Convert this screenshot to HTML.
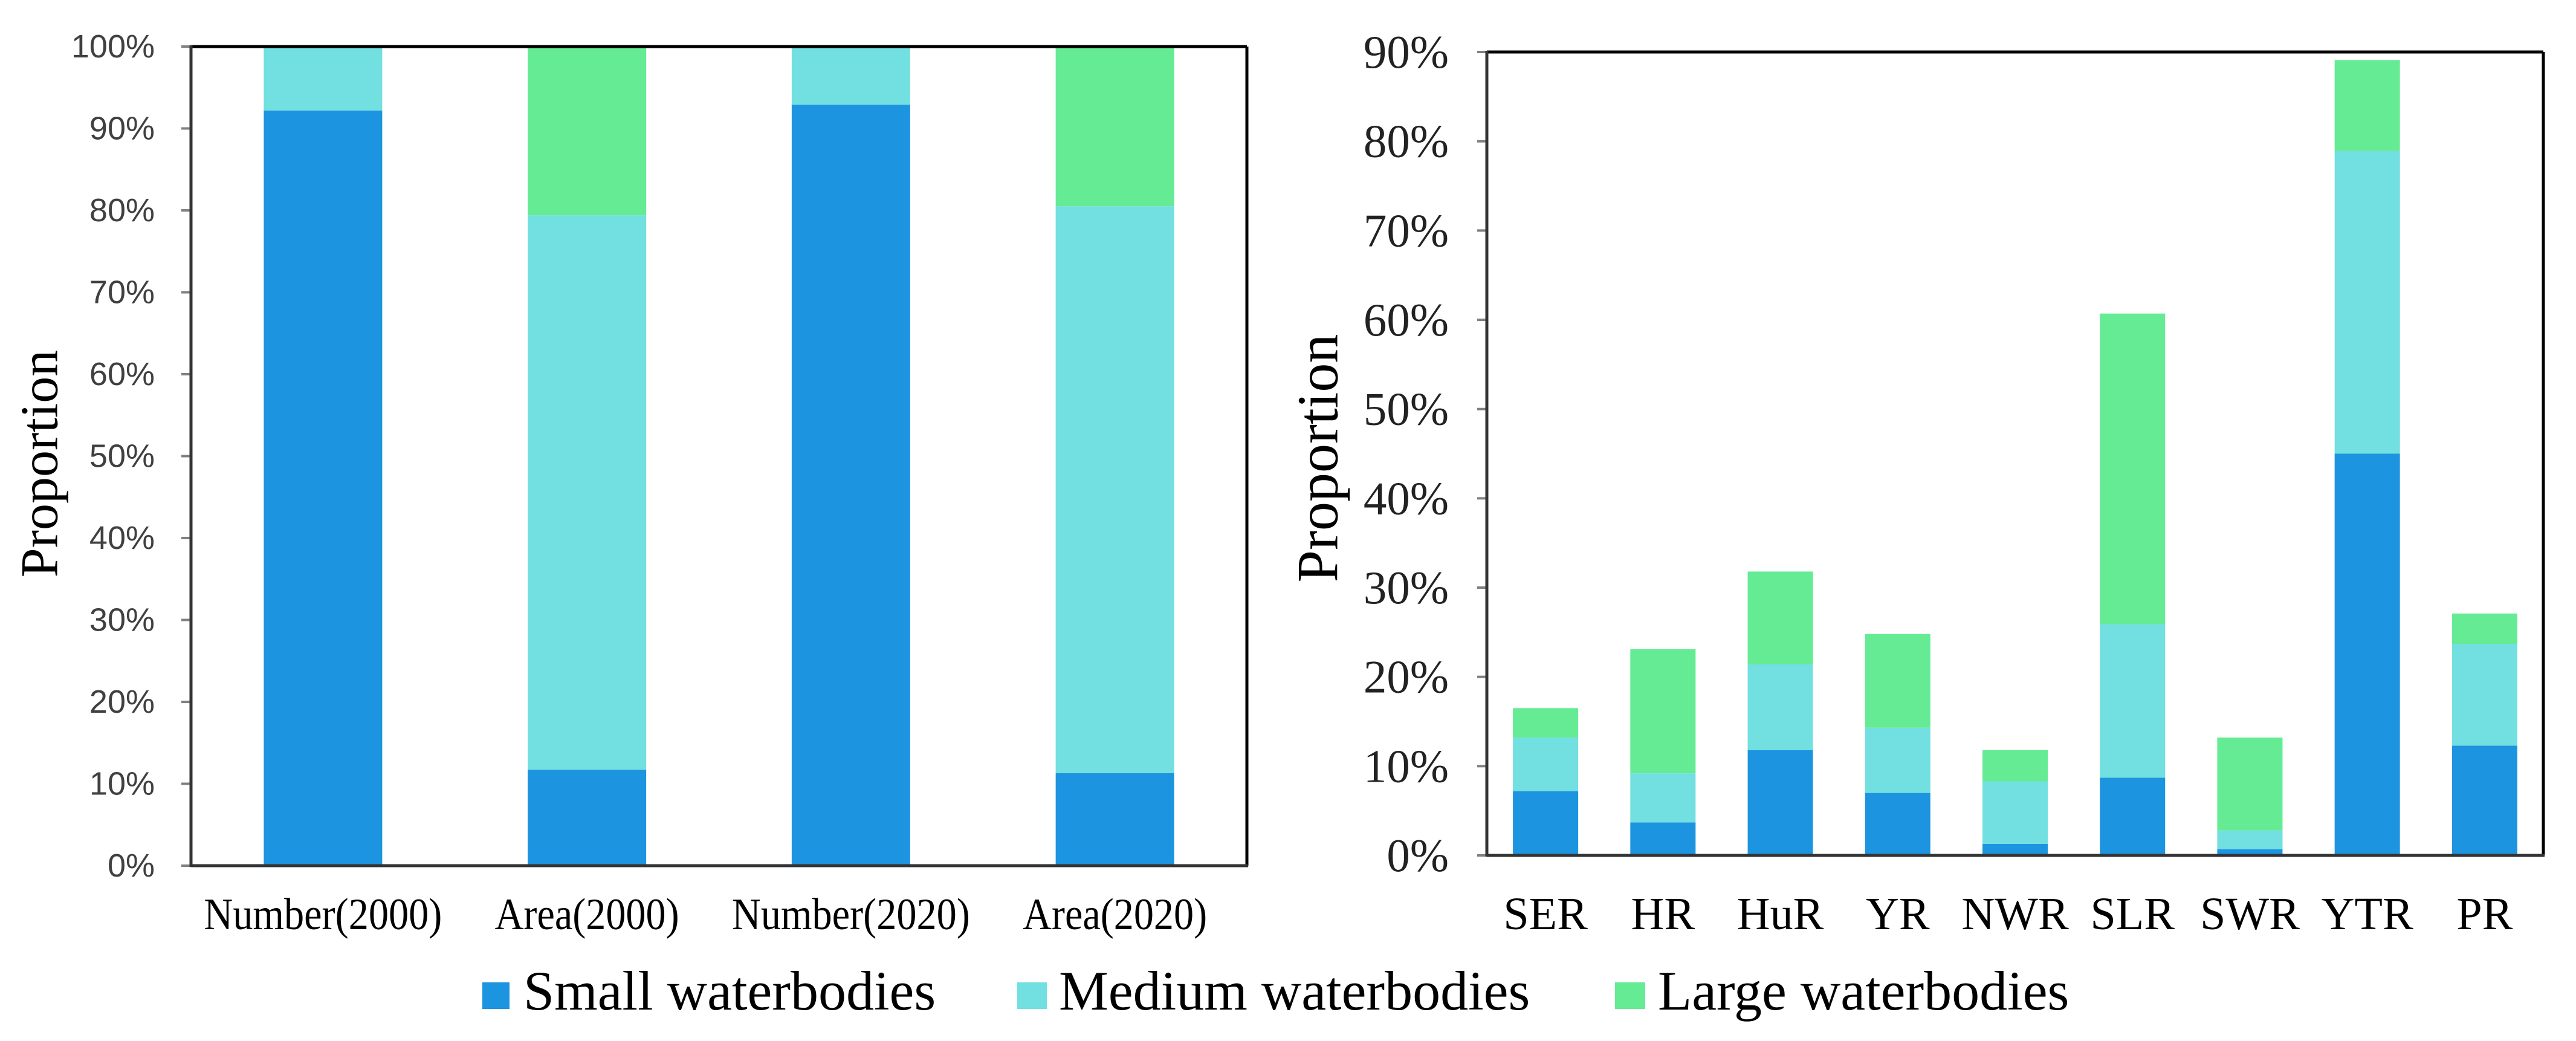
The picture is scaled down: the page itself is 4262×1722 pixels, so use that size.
<!DOCTYPE html>
<html><head><meta charset="utf-8"><style>
html,body{margin:0;padding:0;background:#fff;}
svg{display:block;}
</style></head><body>
<svg id="chart" xmlns="http://www.w3.org/2000/svg" width="4262" height="1722" viewBox="0 0 4262 1722">
<rect x="0" y="0" width="4262" height="1722" fill="#fff"/>
<g id="left"></g>
<g id="right"></g>
<g id="legend">
  <rect x="798" y="1625" width="45" height="44" fill="#1c94e0"/>
  <text x="866" y="1670" font-family="Liberation Serif, serif" font-size="92" fill="#000">Small waterbodies</text>
  <rect x="1683" y="1625" width="49" height="44" fill="#72dfe0"/>
  <text x="1752" y="1670" font-family="Liberation Serif, serif" font-size="92" fill="#000">Medium waterbodies</text>
  <rect x="2672" y="1625" width="50" height="44" fill="#64eb94"/>
  <text x="2743" y="1670" font-family="Liberation Serif, serif" font-size="92" fill="#000">Large waterbodies</text>
</g>
</svg>
<script>
const NS = 'http://www.w3.org/2000/svg';
const COLORS = ['#1c94e0', '#72dfe0', '#64eb94'];
const SERIES_NAMES = ['small', 'medium', 'large'];

// Left chart data (cumulative top of each stack segment, %)
const leftCategories = ['Number(2000)', 'Area(2000)', 'Number(2020)', 'Area(2020)'];
const leftSmall = [92.2, 11.7, 92.9, 11.3];
const leftMedium = [7.8, 67.7, 7.1, 69.2];
const leftLarge = [0, 20.6, 0, 19.5];
const leftTicks = ['0%', '10%', '20%', '30%', '40%', '50%', '60%', '70%', '80%', '90%', '100%'];

// Right chart data (%)
const rightCategories = ['SER', 'HR', 'HuR', 'YR', 'NWR', 'SLR', 'SWR', 'YTR', 'PR'];
const rightSmall = [7.2, 3.7, 11.8, 7.0, 1.3, 8.7, 0.7, 45.0, 12.3];
const rightMedium = [6.0, 5.5, 9.6, 7.3, 7.0, 17.2, 2.1, 33.9, 11.4];
const rightLarge = [3.3, 13.9, 10.4, 10.5, 3.5, 34.8, 10.4, 10.2, 3.4];
const rightTicks = ['0%', '10%', '20%', '30%', '40%', '50%', '60%', '70%', '80%', '90%'];

function mk(parent, tag, attrs, text) {
  const e = document.createElementNS(NS, tag);
  for (const k in attrs) e.setAttribute(k, attrs[k]);
  if (text !== undefined) e.textContent = text;
  parent.appendChild(e);
  return e;
}

function drawChart(g, cfg) {
  const {x0, x1, y0, y1, max, cats, series, ticks, barW, tickFont, tickSize, tickColor, tickRight, catFont, catSize, catY, title, titleX, titleY, titleSize, catLen} = cfg;
  const yScale = v => y1 - (v / max) * (y1 - y0);
  const band = (x1 - x0) / cats.length;
  const xCenter = i => x0 + band * (i + 0.5);
  // ticks
  ticks.forEach((t, i) => {
    const v = (max / (ticks.length - 1)) * i;
    const y = yScale(v);
    const tm = mk(g, 'line', {x1: x0 - 16, x2: x0, y1: y, y2: y, stroke: '#808080', 'stroke-width': 4});
    
    
    const tl = mk(g, 'text', {x: tickRight, y: y, 'text-anchor': 'end', 'dominant-baseline': 'central', 'font-family': tickFont, 'font-size': tickSize, fill: tickColor}, t);
    
    
  });
  // bars
  cats.forEach((c, i) => {
    let acc = 0;
    series.forEach((s, k) => {
      const v = s[i];
      if (v > 0) {
        const yt = yScale(acc + v), yb = yScale(acc);
        const r = mk(g, 'rect', {x: xCenter(i) - barW / 2, y: yt, width: barW, height: yb - yt, fill: COLORS[k]});
        
        
      }
      acc += v;
    });
    const attrs = {x: xCenter(i), y: catY, 'text-anchor': 'middle', 'font-family': catFont, 'font-size': catSize, fill: '#000'};
    if (catLen) { attrs.textLength = catLen[i]; attrs.lengthAdjust = 'spacingAndGlyphs'; }
    const cl = mk(g, 'text', attrs, c);
    
    
  });
  // frame
  const f1 = mk(g, 'line', {x1: x0, x2: x1, y1: y0, y2: y0, stroke: '#000', 'stroke-width': 5});
  
  
  const f2 = mk(g, 'line', {x1: x1, x2: x1, y1: y0, y2: y1, stroke: '#000', 'stroke-width': 5});
  
  
  const f3 = mk(g, 'line', {x1: x0, x2: x0, y1: y0 - 2, y2: y1 + 2, stroke: '#333', 'stroke-width': 5});
  
  
  const f4 = mk(g, 'line', {x1: x0, x2: x1 + 2, y1: y1, y2: y1, stroke: '#333', 'stroke-width': 5});
  
  
  const tt = mk(g, 'text', {x: titleX, y: titleY, 'text-anchor': 'middle', 'dominant-baseline': 'central', 'font-family': 'Liberation Serif, serif', 'font-size': titleSize, fill: '#000', transform: 'rotate(-90 ' + titleX + ' ' + titleY + ')'}, title);
  
  
}

drawChart(document.getElementById('left'), {
  x0: 316, x1: 2063, y0: 77, y1: 1432, max: 100,
  cats: leftCategories, series: [leftSmall, leftMedium, leftLarge], ticks: leftTicks,
  barW: 196, tickFont: 'Liberation Sans, sans-serif', tickSize: 54, tickColor: '#404040', tickRight: 256,
  catFont: 'Liberation Serif, serif', catSize: 74, catY: 1537, catLen: [394, 305, 394, 305],
  title: 'Proportion', titleX: 66, titleY: 767, titleSize: 88
});
drawChart(document.getElementById('right'), {
  x0: 2460, x1: 4208, y0: 86, y1: 1415, max: 90,
  cats: rightCategories, series: [rightSmall, rightMedium, rightLarge], ticks: rightTicks,
  barW: 108, tickFont: 'Liberation Serif, serif', tickSize: 77, tickColor: '#222', tickRight: 2397,
  catFont: 'Liberation Serif, serif', catSize: 76, catY: 1537,
  title: 'Proportion', titleX: 2180, titleY: 758, titleSize: 96
});
</script>
</body></html>
